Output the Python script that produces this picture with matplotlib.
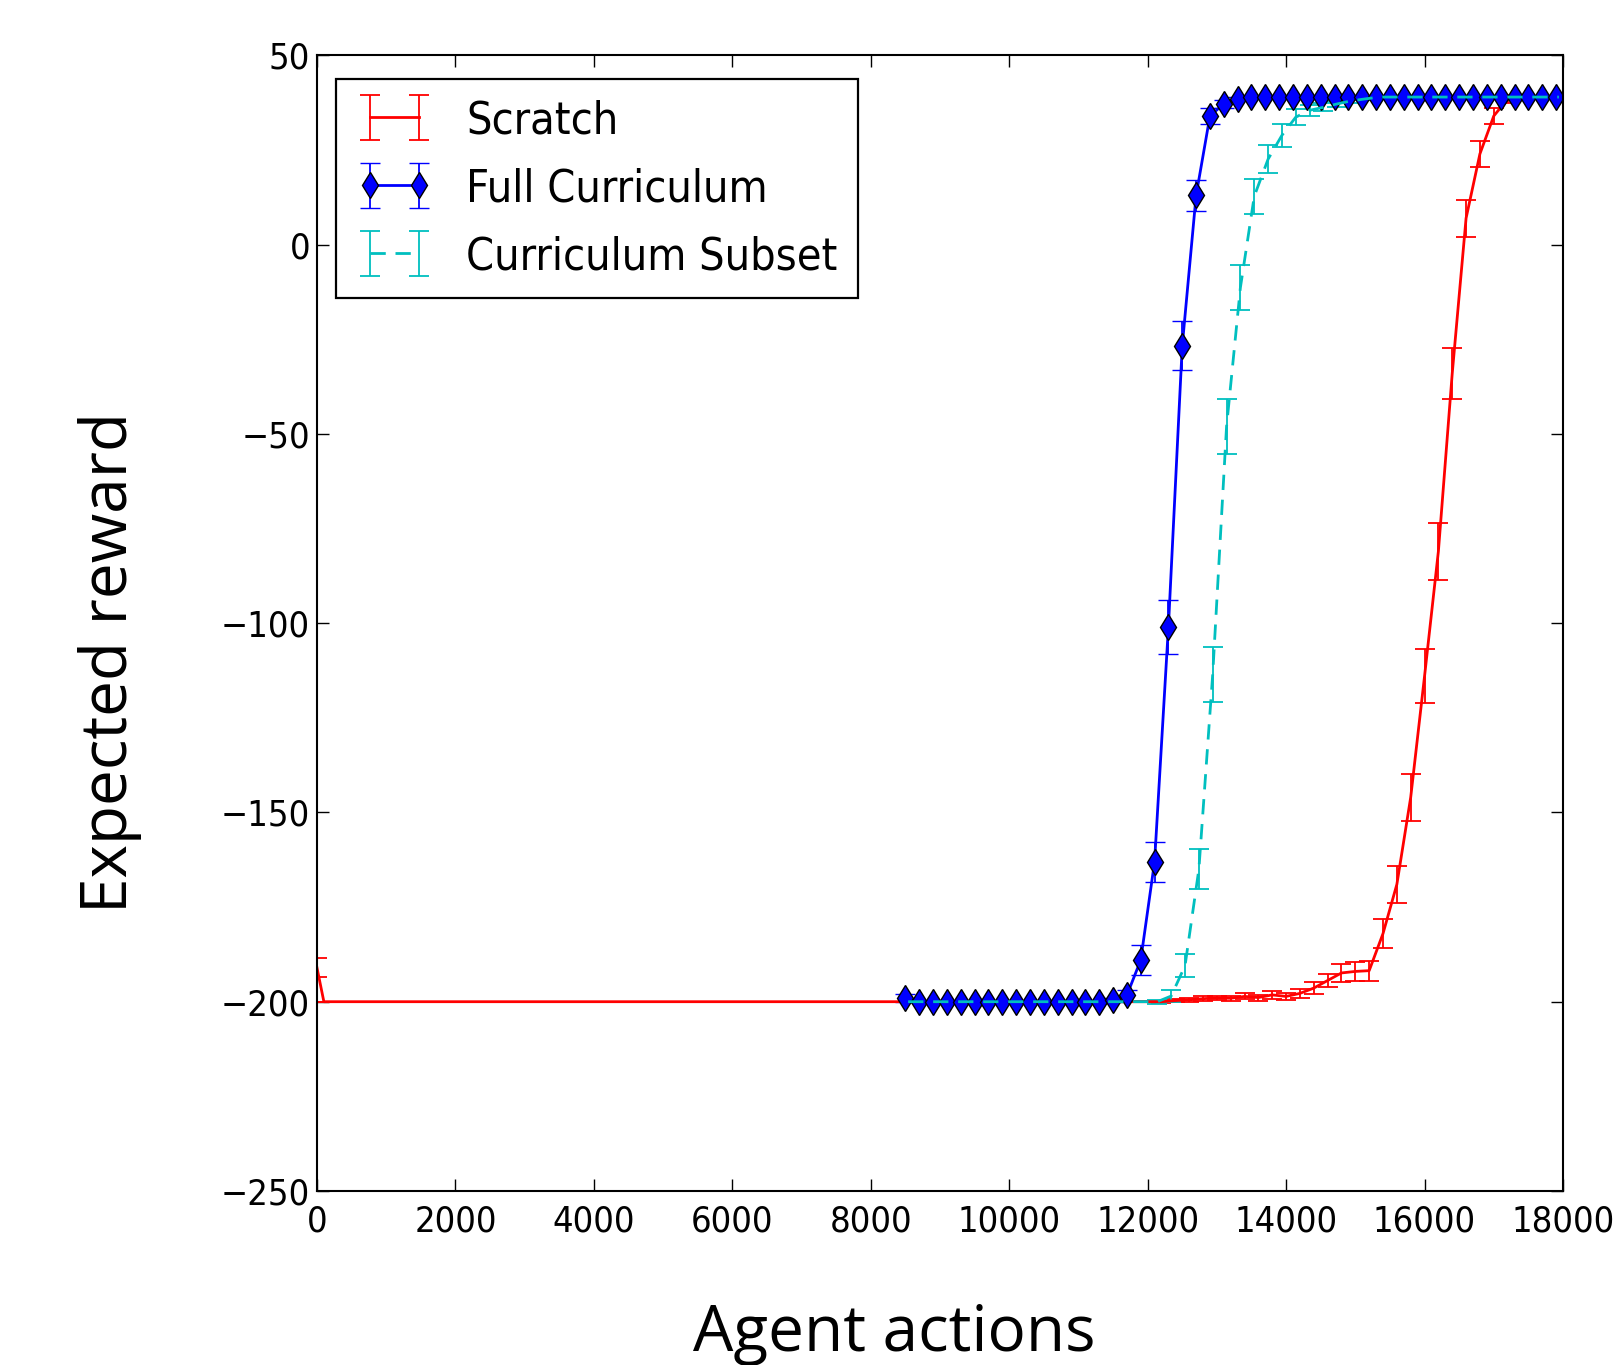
"""
Expected reward vs agent actions: learning from scratch vs curriculum variants.
Writes out.png (1613 x 1365 px).
"""

import numpy as np
import matplotlib
matplotlib.use("Agg")
import matplotlib.pyplot as plt


# ============================ data ============================
SCRATCH_X = [0, 100, 12000, 12200, 12400, 12600, 12800, 13000, 13200, 13400, 13600,
             13800, 14000, 14200, 14400, 14600, 14800, 15000, 15200, 15400, 15600,
             15800, 16000, 16200, 16400, 16600, 16800, 17000, 17200, 17400, 17600,
             17800, 18000]
SCRATCH_Y = [-191.0, -200.0, -200.0, -200.0, -199.7, -199.5, -199.2, -199.0, -199.1,
             -198.6, -198.9, -198.2, -198.6, -197.8, -196.4, -194.4, -192.4, -192.0,
             -191.8, -182.0, -169.0, -146.0, -114.0, -81.0, -34.0, 7.0, 24.0, 34.0,
             38.5, 39.0, 39.0, 39.0, 39.0]
SCRATCH_E = [2.5, 0.0, 0.0, 0.3, 0.5, 0.5, 0.6, 0.6, 0.6, 0.8, 0.8, 1.0, 1.0, 1.2,
             1.5, 1.8, 2.3, 2.6, 2.6, 3.8, 4.9, 6.2, 7.2, 7.5, 6.8, 4.9, 3.5, 2.0,
             1.0, 0.3, 0.2, 0.2, 0.2]

FULL_X = np.arange(8500, 18000, 200)
FULL_Y = [-199.0] + [-200.0] * 14 + [-199.6, -198.3, -189.0, -163.0, -101.0, -26.7,
                                     13.0, 34.0, 37.2, 38.6] + [39.0] * 23
FULL_E = [1.0] + [0.2] * 14 + [0.5, 1.5, 4.0, 5.3, 7.2, 6.5, 4.0, 2.0, 1.0, 0.5] + [0.2] * 23

SUBSET_X = np.arange(8540, 18000, 200)
SUBSET_Y = [-200.0] * 19 + [-198.5, -190.5, -165.0, -113.5, -48.0, -11.3, 12.8, 22.6,
                            28.9, 33.7, 35.5, 36.3, 37.2, 38.0, 38.5] + [39.0] * 14
SUBSET_E = [0.2] * 18 + [0.5, 1.7, 3.0, 5.3, 7.2, 7.2, 6.0, 4.6, 3.7, 3.0, 2.2, 1.5,
                         1.0, 0.8, 0.5, 0.3] + [0.2] * 14

LABELS = ["Scratch", "Full Curriculum", "Curriculum Subset"]
# =======================================================================================

plt.rcParams["font.family"] = ["DejaVu Sans"]
plt.rcParams["font.stretch"] = "condensed"

fig = plt.figure(figsize=(16.13, 13.65), dpi=100)
ax = fig.add_axes([0.1965, 0.1275, 0.7725, 0.8319])

eb = dict(elinewidth=1.3, capsize=7.5, capthick=1.3)
ax.errorbar(SCRATCH_X, SCRATCH_Y, yerr=SCRATCH_E, color="r", lw=2.0,
            label=LABELS[0], **eb)
ax.errorbar(FULL_X, FULL_Y, yerr=FULL_E, color="b", lw=2.0, marker="d", ms=13,
            mfc="b", mec="k", mew=1.0, label=LABELS[1], **eb)
ax.errorbar(SUBSET_X, SUBSET_Y, yerr=SUBSET_E, color="c", lw=2.0, ls=(0, (5.5, 3.5)),
            label=LABELS[2], **eb)

ax.set_xlim(0, 18000)
ax.set_ylim(-250, 50)
ax.set_xticks(range(0, 18001, 2000))
ax.set_yticks(range(-250, 51, 50))
ax.tick_params(direction="in", length=8.5, width=1.0, top=True, right=True,
               labelsize=26)
ax.tick_params(axis="x", pad=9.5)
ax.tick_params(axis="y", pad=5)
for s in ax.spines.values():
    s.set_linewidth(1.5)

leg = ax.legend(loc="upper left", bbox_to_anchor=(0.0153, 0.9793), borderaxespad=0,
                fontsize=32.2, numpoints=2, handlelength=1.7, handletextpad=0.76,
                labelspacing=0.56, borderpad=0.45, fancybox=False, framealpha=1)
leg.get_frame().set_edgecolor("k")
leg.get_frame().set_linewidth(1.6)

fig.text(0.068, 0.515, "Expected reward", rotation=90, ha="center", va="center",
         family=["Open Sans", "DejaVu Sans"], fontsize=46, stretch="normal")
fig.text(0.5543, 0.0103, "Agent actions", ha="center", va="baseline",
         family=["Open Sans", "DejaVu Sans"], fontsize=46, stretch="normal")

fig.savefig("out.png", dpi=100)
